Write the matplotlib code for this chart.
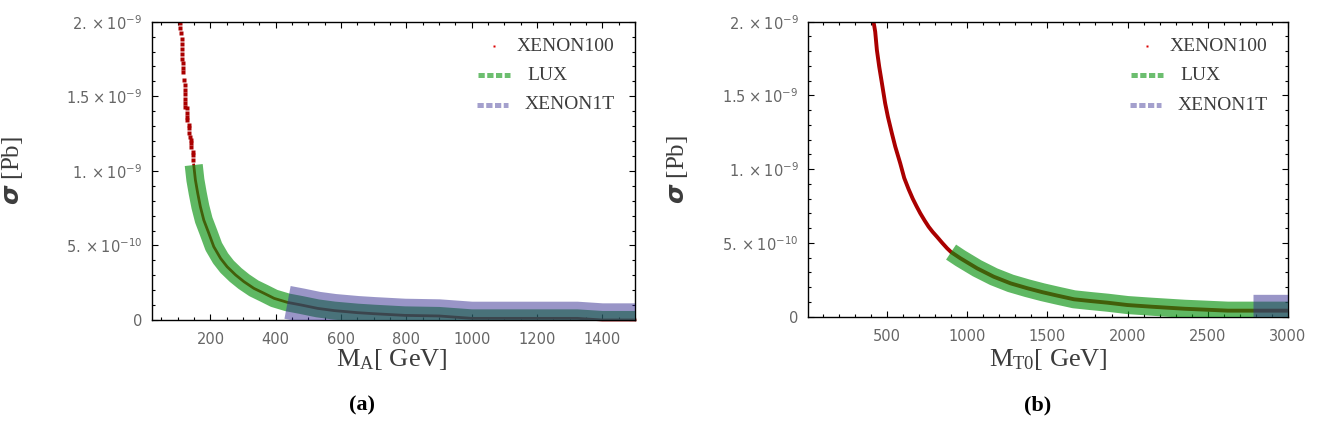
import numpy as np
import matplotlib.pyplot as plt
from matplotlib.ticker import MultipleLocator

plt.rcParams['mathtext.fontset'] = 'dejavusans'

# ---- panel (a): M_A scan, sigma in units of 1e-9 pb ----
# isolated XENON100 points above the LUX region
scan_a_m = [105.6, 106.6, 108.7, 112, 112, 112, 112, 112, 117, 117, 117, 118,
            123, 123, 123, 123, 123, 123, 129, 129, 129, 129, 134.5, 134.5,
            134.5, 136, 140, 140, 140, 145.5, 145.5, 145.5]
scan_a_sig = [1.993, 1.956, 1.922, 1.882, 1.848, 1.815, 1.781, 1.750, 1.721, 1.688,
              1.665, 1.609, 1.576, 1.542, 1.513, 1.480, 1.453, 1.430, 1.419, 1.386,
              1.363, 1.341, 1.307, 1.285, 1.256, 1.229, 1.207, 1.185, 1.162, 1.128,
              1.106, 1.073]
# dense part of the scan (drawn as a line)
curve_a_m = [148.7, 153.8, 161, 169, 179.5, 195, 210, 231, 251, 277, 302.5, 333,
             364, 395, 436, 477, 528, 579, 651, 702, 795, 900, 1000, 1200, 1323,
             1400, 1500]
curve_a_sig = [1.039, 0.939, 0.849, 0.760, 0.670, 0.581, 0.492, 0.413, 0.357, 0.302,
               0.257, 0.212, 0.179, 0.145, 0.118, 0.101, 0.078, 0.063, 0.049, 0.042,
               0.031, 0.027, 0.011, 0.011, 0.011, 0.0, 0.0]
lux_a_min = 148.7
x1t_a_min = 436

# ---- panel (b): M_T0 scan ----
curve_b_m = [416, 422, 427, 437.5, 452, 469, 489, 506, 531, 552, 583, 608, 635,
             661, 685, 708, 735, 760, 785, 812, 845, 875, 900, 958, 1010, 1062,
             1166, 1271, 1375, 1470, 1562, 1666, 1771, 1875, 2000, 2146, 2354,
             2625, 2780, 2812, 3000]
curve_b_sig = [2.0, 1.965, 1.932, 1.808, 1.695, 1.582, 1.447, 1.356, 1.243, 1.153,
               1.040, 0.940, 0.865, 0.800, 0.748, 0.701, 0.652, 0.610, 0.575, 0.542,
               0.500, 0.464, 0.438, 0.396, 0.362, 0.328, 0.271, 0.226, 0.193, 0.166,
               0.143, 0.118, 0.106, 0.095, 0.079, 0.068, 0.054, 0.041, 0.041, 0.041,
               0.041]
lux_b_min = 900
x1t_b_min = 2780

ytick_vals = [0, 0.5e-9, 1e-9, 1.5e-9, 2e-9]
ytick_labels = ['0', r'$\mathregular{5.\times 10^{-10}}$', r'$\mathregular{1.\times 10^{-9}}$',
                r'$\mathregular{1.5\times 10^{-9}}$', r'$\mathregular{2.\times 10^{-9}}$']

RED = '#aa0000'
GREEN = (10/255, 147/255, 16/255)
PURPLE = (53/255, 45/255, 145/255)
TXT = '#3c3c3c'
TICK_TXT = '#666666'
SERIF = 'Liberation Serif'

W, H = 1322, 446
fig = plt.figure(figsize=(W/100, H/100), dpi=100)


def px_axes(x0, x1, ytop, ybot):
    return fig.add_axes([x0/W, 1 - ybot/H, (x1 - x0)/W, (ybot - ytop)/H])


def style_axes(ax, xlim, xminor, xticks):
    ax.set_xlim(*xlim)
    ax.set_ylim(0, 2e-9)
    ax.set_xticks(xticks)
    ax.xaxis.set_minor_locator(MultipleLocator(xminor))
    ax.set_yticks(ytick_vals)
    ax.set_yticklabels(ytick_labels)
    ax.yaxis.set_minor_locator(MultipleLocator(1e-10))
    ax.tick_params(which='both', direction='in', top=True, right=True, width=0.8,
                   colors='black', labelcolor=TICK_TXT, labelsize=10.5)
    ax.tick_params(which='major', length=4)
    ax.tick_params(which='minor', length=2.2)
    ax.tick_params(axis='x', pad=9)
    ax.tick_params(axis='y', pad=7)
    for s in ax.spines.values():
        s.set_linewidth(1.0)


def draw_bands(ax, m, sig, lux_min, x1t_min):
    m = np.array(m)
    s = np.array(sig) * 1e-9
    lux = m >= lux_min
    x1t = m >= x1t_min
    ax.plot(m[lux], s[lux], color=GREEN, alpha=0.65, lw=13, solid_capstyle='butt',
            solid_joinstyle='round', zorder=3)
    ax.plot(m[x1t], s[x1t], color=PURPLE, alpha=0.5, lw=24, solid_capstyle='butt',
            solid_joinstyle='round', zorder=4)


def draw_legend(ax, pos):
    dot_x, t1, d0, d1, t2, t3, y1, y2, y3 = pos
    tr = ax.transAxes
    ax.plot([dot_x], [y1], 's', ms=1.5, color='#dd0000', mec='none', transform=tr, clip_on=False)
    ax.text(t1, y1, 'XENON100', transform=tr, fontsize=14, family=SERIF, color=TXT, va='center')
    ax.plot([d0, d1], [y2, y2], color=GREEN, alpha=0.6, lw=3.6, dashes=[1.25, 0.5],
            dash_capstyle='butt', transform=tr)
    ax.text(t2, y2, 'LUX', transform=tr, fontsize=14, family=SERIF, color=TXT, va='center')
    ax.plot([d0 - 0.002, d1 - 0.004], [y3, y3], color=PURPLE, alpha=0.45, lw=3.6,
            dashes=[1.25, 0.5], dash_capstyle='butt', transform=tr)
    ax.text(t3, y3, 'XENON1T', transform=tr, fontsize=14, family=SERIF, color=TXT, va='center')


# ---- panel (a) ----
ax1 = px_axes(151.7, 635, 21.7, 320)
style_axes(ax1, (20, 1500), 50, [200, 400, 600, 800, 1000, 1200, 1400])
ax1.plot(scan_a_m, np.array(scan_a_sig) * 1e-9, 's', ms=2.2, color=RED, mec='none', zorder=2)
ax1.plot(curve_a_m, np.array(curve_a_sig) * 1e-9, color=RED, lw=2.0, zorder=2, clip_on=False)
draw_bands(ax1, curve_a_m, curve_a_sig, lux_a_min, x1t_a_min)
draw_legend(ax1, (0.709, 0.755, 0.675, 0.741, 0.7765, 0.7724, 0.9185, 0.8213, 0.7208))
ax1.set_ylabel(r'$\boldsymbol{\sigma}$ [Pb]', fontsize=18, family=SERIF, color=TXT)
ax1.yaxis.set_label_coords((25 - 151.7)/483.3, 0.5)
fig.text(392/W, 1 - 359/H, r'$\mathregular{M_{A}}$[ GeV]', fontsize=19, family=SERIF,
         color=TXT, ha='center', va='center')
fig.text(362/W, 1 - 405/H, '(a)', fontsize=16, family=SERIF, weight='bold',
         ha='center', va='center')

# ---- panel (b) ----
ax2 = px_axes(808.3, 1288, 21.7, 316.7)
style_axes(ax2, (10, 3000), 100, [500, 1000, 1500, 2000, 2500, 3000])
ax2.plot(curve_b_m, np.array(curve_b_sig) * 1e-9, color=RED, lw=2.8, zorder=2)
draw_bands(ax2, curve_b_m, curve_b_sig, lux_b_min, x1t_b_min)
draw_legend(ax2, (0.7067, 0.7534, 0.6727, 0.7394, 0.7749, 0.7707, 0.9176, 0.8193, 0.7176))
ax2.set_ylabel(r'$\boldsymbol{\sigma}$ [Pb]', fontsize=18, family=SERIF, color=TXT)
ax2.yaxis.set_label_coords((690 - 808.3)/479.7, 0.5)
fig.text(1048/W, 1 - 359/H, r'$\mathregular{M_{T0}}$[ GeV]', fontsize=19, family=SERIF,
         color=TXT, ha='center', va='center')
fig.text(1038/W, 1 - 405/H, '(b)', fontsize=16, family=SERIF, weight='bold',
         ha='center', va='center')

fig.savefig('out.png', dpi=100, facecolor='white')
